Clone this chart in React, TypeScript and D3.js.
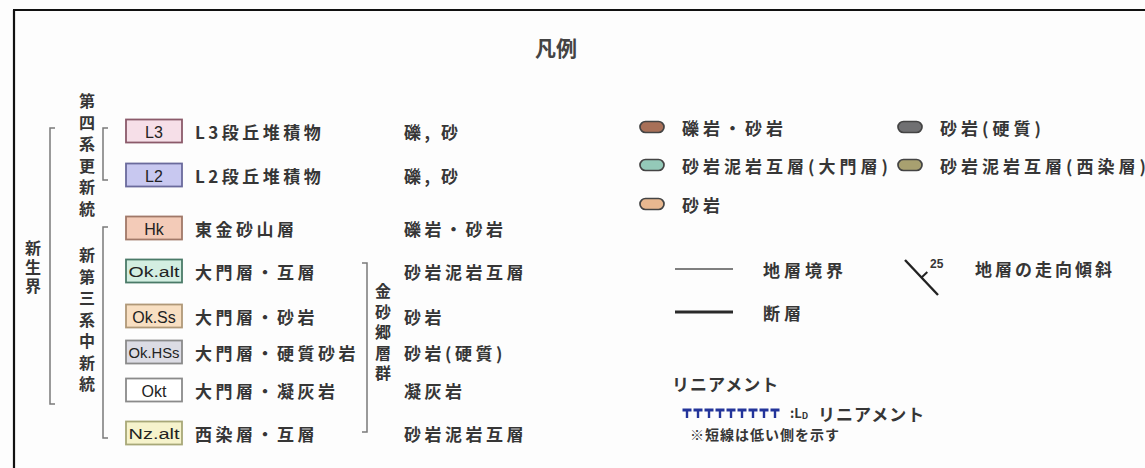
import React from "react";
import * as d3 from "d3";

// ---- Data ----
const unitCodes = ["L3", "L2", "Hk", "Ok.alt", "Ok.Ss", "Ok.HSs", "Okt", "Nz.alt"];
const unitNames = [
  "L3段丘堆積物",
  "L2段丘堆積物",
  "東金砂山層",
  "大門層・互層",
  "大門層・砂岩",
  "大門層・硬質砂岩",
  "大門層・凝灰岩",
  "西染層・互層",
];
const unitLithology = ["礫, 砂", "礫, 砂", "礫岩・砂岩", "砂岩泥岩互層", "砂岩", "砂岩(硬質)", "凝灰岩", "砂岩泥岩互層"];
const unitFill = ["#f6dfe8", "#c8c8f0", "#f3cbb8", "#d3eee1", "#f8dfc2", "#dcdce4", "#ffffff", "#f6f3cc"];
const unitStroke = ["#8b5a6a", "#6a6a9c", "#a07868", "#4a7a68", "#b09878", "#8a8a8a", "#8a8a8a", "#a8a878"];

const eraLabel = "新生界";
const quaternaryLabel = "第四系更新統";
const neogeneLabel = "新第三系中新統";
const groupLabel = "金砂郷層群";
const title = "凡例";

const pillLabels = ["礫岩・砂岩", "砂岩(硬質)", "砂岩泥岩互層(大門層)", "砂岩泥岩互層(西染層)", "砂岩"];
const pillColors = ["#a87058", "#707072", "#94c9b8", "#a8a070", "#e8b890"];

const lineLabels = ["地層境界", "断層"];
const strikeLabel = "地層の走向傾斜";
const dipValue = "25";
const lineamentTitle = "リニアメント";
const lineamentLabel = "リニアメント";
const lineamentNote = "※短線は低い側を示す";
const lineamentTickCount = 9;

// ---- Layout ----
const W = 1145;
const H = 468;
const rowY = [131, 175, 228, 271, 316, 352, 390, 433];
const textColor = "#363636";
const jp = "'Noto Sans CJK JP', 'Noto Sans', sans-serif";

function VerticalText({ text, x, y0, step }: { text: string; x: number; y0: number; step: number }) {
  const chars = Array.from(text);
  const ys = d3.scaleLinear().domain([0, 1]).range([y0, y0 + step]);
  return (
    <g>
      {chars.map((c, i) => (
        <text
          key={i}
          x={x}
          y={ys(i)}
          textAnchor="middle"
          dominantBaseline="central"
          fontFamily={jp}
          fontWeight={700}
          fontSize={16}
          fill={textColor}
        >
          {c}
        </text>
      ))}
    </g>
  );
}

function Bracket({ x, y1, y2, dir }: { x: number; y1: number; y2: number; dir: number }) {
  const h = 5 * dir;
  const p = d3.path();
  p.moveTo(x + h, y1);
  p.lineTo(x, y1);
  p.lineTo(x, y2);
  p.lineTo(x + h, y2);
  return <path d={p.toString()} fill="none" stroke="#7a7a7a" strokeWidth={1.5} />;
}

export default function App() {
  const boxX = 126;
  const boxW = 56;
  const boxH = 23;

  const pillCol = d3.scaleOrdinal<number, number>().domain([0, 1]).range([640, 898]);
  const pillRow = d3.scaleOrdinal<number, number>().domain([0, 1, 2]).range([127, 165, 204]);

  const tScale = d3.scaleLinear().domain([0, lineamentTickCount - 1]).range([687, 775]);

  const sx1 = 905, sy1 = 260, sx2 = 938, sy2 = 295;
  const mx = (sx1 + sx2) / 2, my = (sy1 + sy2) / 2;
  const len = Math.hypot(sx2 - sx1, sy2 - sy1);
  const px = (sy2 - sy1) / len, py = -(sx2 - sx1) / len;

  return (
    <svg
      width={W}
      height={H}
      viewBox={`0 0 ${W} ${H}`}
      style={{ position: "absolute", left: 0, top: 0, display: "block", background: "#fdfdfd" }}
    >
      <rect x={0} y={0} width={W} height={H} fill="#fdfdfd" />
      <line x1={13} y1={10} x2={W} y2={10} stroke="#111" strokeWidth={2.2} />
      <line x1={14} y1={10} x2={14} y2={H} stroke="#111" strokeWidth={2.2} />

      <text x={556} y={47} textAnchor="middle" dominantBaseline="central" fontFamily={jp} fontWeight={700} fontSize={21} fill="#444">
        {title}
      </text>

      <VerticalText text={eraLabel} x={33} y0={247} step={19} />
      <Bracket x={50} y1={128} y2={404} dir={1} />
      <VerticalText text={quaternaryLabel} x={87} y0={100} step={21.6} />
      <Bracket x={103} y1={128} y2={180} dir={1} />
      <VerticalText text={neogeneLabel} x={87} y0={254} step={21.5} />
      <Bracket x={103} y1={227} y2={438} dir={1} />

      {unitCodes.map((code, i) => {
        const y = rowY[i];
        const long = code.length >= 6;
        return (
          <g key={code}>
            <rect x={boxX} y={y - boxH / 2} width={boxW} height={boxH} fill={unitFill[i]} stroke={unitStroke[i]} strokeWidth={1.8} />
            <text
              x={boxX + boxW / 2}
              y={y + 1}
              textAnchor="middle"
              dominantBaseline="central"
              fontFamily="'Liberation Sans', Arial, sans-serif"
              fontSize={long ? 14 : 16}
              fill="#222"
              {...(long ? { textLength: 51, lengthAdjust: "spacingAndGlyphs" } : {})}
            >
              {code}
            </text>
            <text x={195} y={y} dominantBaseline="central" fontFamily={jp} fontWeight={700} fontSize={17} letterSpacing={3.5} fill={textColor}>
              {unitNames[i]}
            </text>
            <text x={404} y={y} dominantBaseline="central" fontFamily={jp} fontWeight={700} fontSize={17} letterSpacing={3.5} fill={textColor}>
              {unitLithology[i]}
            </text>
          </g>
        );
      })}

      <Bracket x={367} y1={263} y2={432} dir={-1} />
      <VerticalText text={groupLabel} x={383} y0={290} step={20.5} />

      {pillLabels.map((lab, i) => {
        const col = i % 2;
        const row = Math.floor(i / 2);
        const x = pillCol(col);
        const y = pillRow(row);
        return (
          <g key={lab}>
            <rect x={x} y={y - 5.5} width={24} height={11} rx={5.5} ry={5.5} fill={pillColors[i]} stroke="#444" strokeWidth={1.7} />
            <text x={x + 42} y={y} dominantBaseline="central" fontFamily={jp} fontWeight={700} fontSize={17} letterSpacing={4} fill={textColor}>
              {lab}
            </text>
          </g>
        );
      })}

      {lineLabels.map((lab, i) => {
        const y = i === 0 ? 269 : 312;
        return (
          <g key={lab}>
            <line x1={675} y1={y} x2={733} y2={y} stroke={i === 0 ? "#555" : "#2a2a2a"} strokeWidth={i === 0 ? 1.5 : 2.8} />
            <text x={763} y={y} dominantBaseline="central" fontFamily={jp} fontWeight={700} fontSize={17} letterSpacing={4} fill={textColor}>
              {lab}
            </text>
          </g>
        );
      })}

      <line x1={sx1} y1={sy1} x2={sx2} y2={sy2} stroke="#222" strokeWidth={2.4} />
      <line x1={mx} y1={my} x2={mx + px * 8} y2={my + py * 8} stroke="#222" strokeWidth={2} />
      <text x={930} y={264} dominantBaseline="central" fontFamily="'Liberation Sans', Arial, sans-serif" fontWeight={700} fontSize={12} fill={textColor}>
        {dipValue}
      </text>
      <text x={975} y={268} dominantBaseline="central" fontFamily={jp} fontWeight={700} fontSize={17} letterSpacing={3} fill={textColor}>
        {strikeLabel}
      </text>

      <text x={672} y={383} dominantBaseline="central" fontFamily={jp} fontWeight={700} fontSize={17} letterSpacing={1} fill={textColor}>
        {lineamentTitle}
      </text>
      {d3.range(lineamentTickCount).map((i) => {
        const cx = tScale(i);
        return (
          <g key={i}>
            <line x1={cx - 4.5} y1={410} x2={cx + 4.5} y2={410} stroke="#23349a" strokeWidth={3} />
            <line x1={cx} y1={410} x2={cx} y2={418} stroke="#23349a" strokeWidth={2.4} />
          </g>
        );
      })}
      <text x={790} y={412} dominantBaseline="central" fontFamily={jp} fontWeight={700} fontSize={13} fill={textColor}>
        :L
        <tspan fontSize={9} dy={3}>D</tspan>
      </text>
      <text x={818} y={413} dominantBaseline="central" fontFamily={jp} fontWeight={700} fontSize={17} letterSpacing={1} fill={textColor}>
        {lineamentLabel}
      </text>
      <text x={690} y={434} dominantBaseline="central" fontFamily={jp} fontWeight={700} fontSize={14} letterSpacing={1} fill={textColor}>
        {lineamentNote}
      </text>
    </svg>
  );
}
